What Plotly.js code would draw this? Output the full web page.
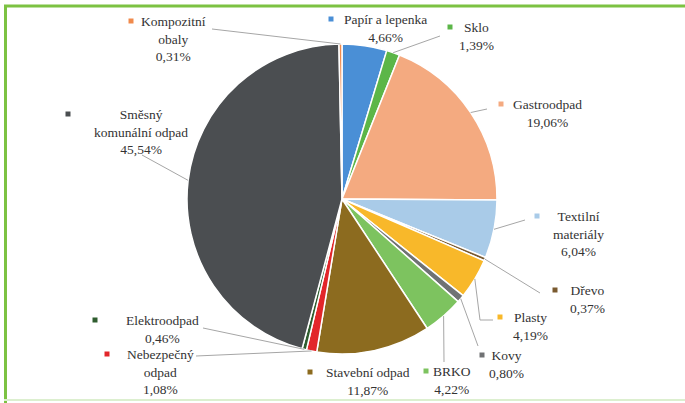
<!DOCTYPE html>
<html><head><meta charset="utf-8">
<script src="https://cdn.plot.ly/plotly-3.0.1.min.js"></script>
<style>html,body{margin:0;padding:0;background:#fff}#chart{width:685px;height:403px}</style>
</head><body><div id="chart"></div>
<script>
// ---- data ----
const categories = ['Papír a lepenka','Sklo','Gastroodpad','Textilní materiály','Dřevo','Plasty','Kovy','BRKO','Stavební odpad','Nebezpečný odpad','Elektroodpad','Směsný komunální odpad','Kompozitní obaly'];
const displayNames = ['Papír a lepenka','Sklo','Gastroodpad','Textilní<br>materiály','Dřevo','Plasty','Kovy','BRKO','Stavební odpad','Nebezpečný<br>odpad','Elektroodpad','Směsný<br>komunální odpad','Kompozitní<br>obaly'];
const values = [4.66,1.39,19.06,6.04,0.37,4.19,0.80,4.22,11.87,1.08,0.46,45.54,0.31];

// ---- styles / layout positions (pixels) ----
const colors = ['#4a8fd6','#5cb648','#f4aa80','#a9cbe8','#7a5a30','#f8b82a','#707274','#7dc35f','#8c6b1f','#e2262a','#2f5d2f','#4b4e51','#f08a4c'];
const W = 685, H = 403;
const cx = 342, cy = 199, R = 155;
const FONT = 'Liberation Serif, Times New Roman, serif';
// label: text center x, first-line y, marker x, leader path points after the slice edge
const labelCfg = [
  {x:385, y:19, mx:331, lead:null},
  {x:476, y:27, mx:450, lead:[[440,36]]},
  {x:547, y:104, mx:501, lead:[[487,109]]},
  {x:578, y:216, mx:537, lead:[[525,220]]},
  {x:587, y:290, mx:555, lead:[[540,293]]},
  {x:530, y:317, mx:500, lead:[[480,320],[493,320]]},
  {x:506, y:355, mx:482, lead:[[478,346]]},
  {x:452, y:371, mx:426, lead:[[444,362]]},
  {x:368, y:372, mx:310, lead:null},
  {x:160, y:354, mx:107, lead:[[196,356]]},
  {x:162, y:320, mx:95, lead:[[203,328]]},
  {x:141, y:114, mx:68, lead:[[142,155]]},
  {x:174, y:21, mx:131, lead:[[212,29]]}
];

const px = x => x / W;
const py = y => 1 - y / H;

const total = values.reduce((a,b)=>a+b,0);
let cum = 0;
const annotations = [], shapes = [];
values.forEach((v,i) => {
  const mid = (cum + v/2) / total * 2*Math.PI;
  cum += v;
  const ex = cx + R*Math.sin(mid), ey = cy - R*Math.cos(mid);
  const c = labelCfg[i];
  const pct = v.toFixed(2).replace('.', ',') + '%';
  annotations.push({
    xref:'paper', yref:'paper', x:px(c.x), y:py(c.y-9), xanchor:'center', yanchor:'top',
    text: displayNames[i] + '<br>' + pct, showarrow:false, align:'center',
    font:{family:FONT, size:13.5, color:'#333333'}
  });
  shapes.push({type:'rect', xref:'paper', yref:'paper', x0:px(c.mx-2.5), x1:px(c.mx+2.5), y0:py(c.y+2.5), y1:py(c.y-2.5), fillcolor:colors[i], line:{width:0}});
  if (c.lead) {
    let d = 'M' + px(ex) + ',' + py(ey);
    c.lead.forEach(p => { d += ' L' + px(p[0]) + ',' + py(p[1]); });
    shapes.push({type:'path', xref:'paper', yref:'paper', path:d, line:{color:'#a6a6a6', width:1}});
  }
});

// frame
shapes.push({type:'line', xref:'paper', yref:'paper', x0:px(5.5), x1:px(5.5), y0:py(5), y1:py(403), line:{color:'#7cc242', width:3}});
shapes.push({type:'line', xref:'paper', yref:'paper', x0:px(4), x1:px(685), y0:py(6), y1:py(6), line:{color:'#7cc242', width:3}});
shapes.push({type:'line', xref:'paper', yref:'paper', x0:px(4), x1:px(685), y0:py(400), y1:py(400), line:{color:'#dcefcf', width:2}});

const trace = {
  type:'pie', labels:categories, values:values, sort:false, direction:'clockwise', rotation:0,
  marker:{colors:colors, line:{color:'#ffffff', width:1.5}},
  textinfo:'none', hoverinfo:'label+percent', showlegend:false,
  domain:{x:[px(cx-R), px(cx+R)], y:[py(cy+R), py(cy-R)]}
};

Plotly.newPlot('chart', [trace], {
  width:W, height:H, margin:{l:0,r:0,t:0,b:0},
  paper_bgcolor:'#ffffff', showlegend:false, font:{family:FONT},
  annotations:annotations, shapes:shapes
}, {displayModeBar:false, staticPlot:true});
</script></body></html>
